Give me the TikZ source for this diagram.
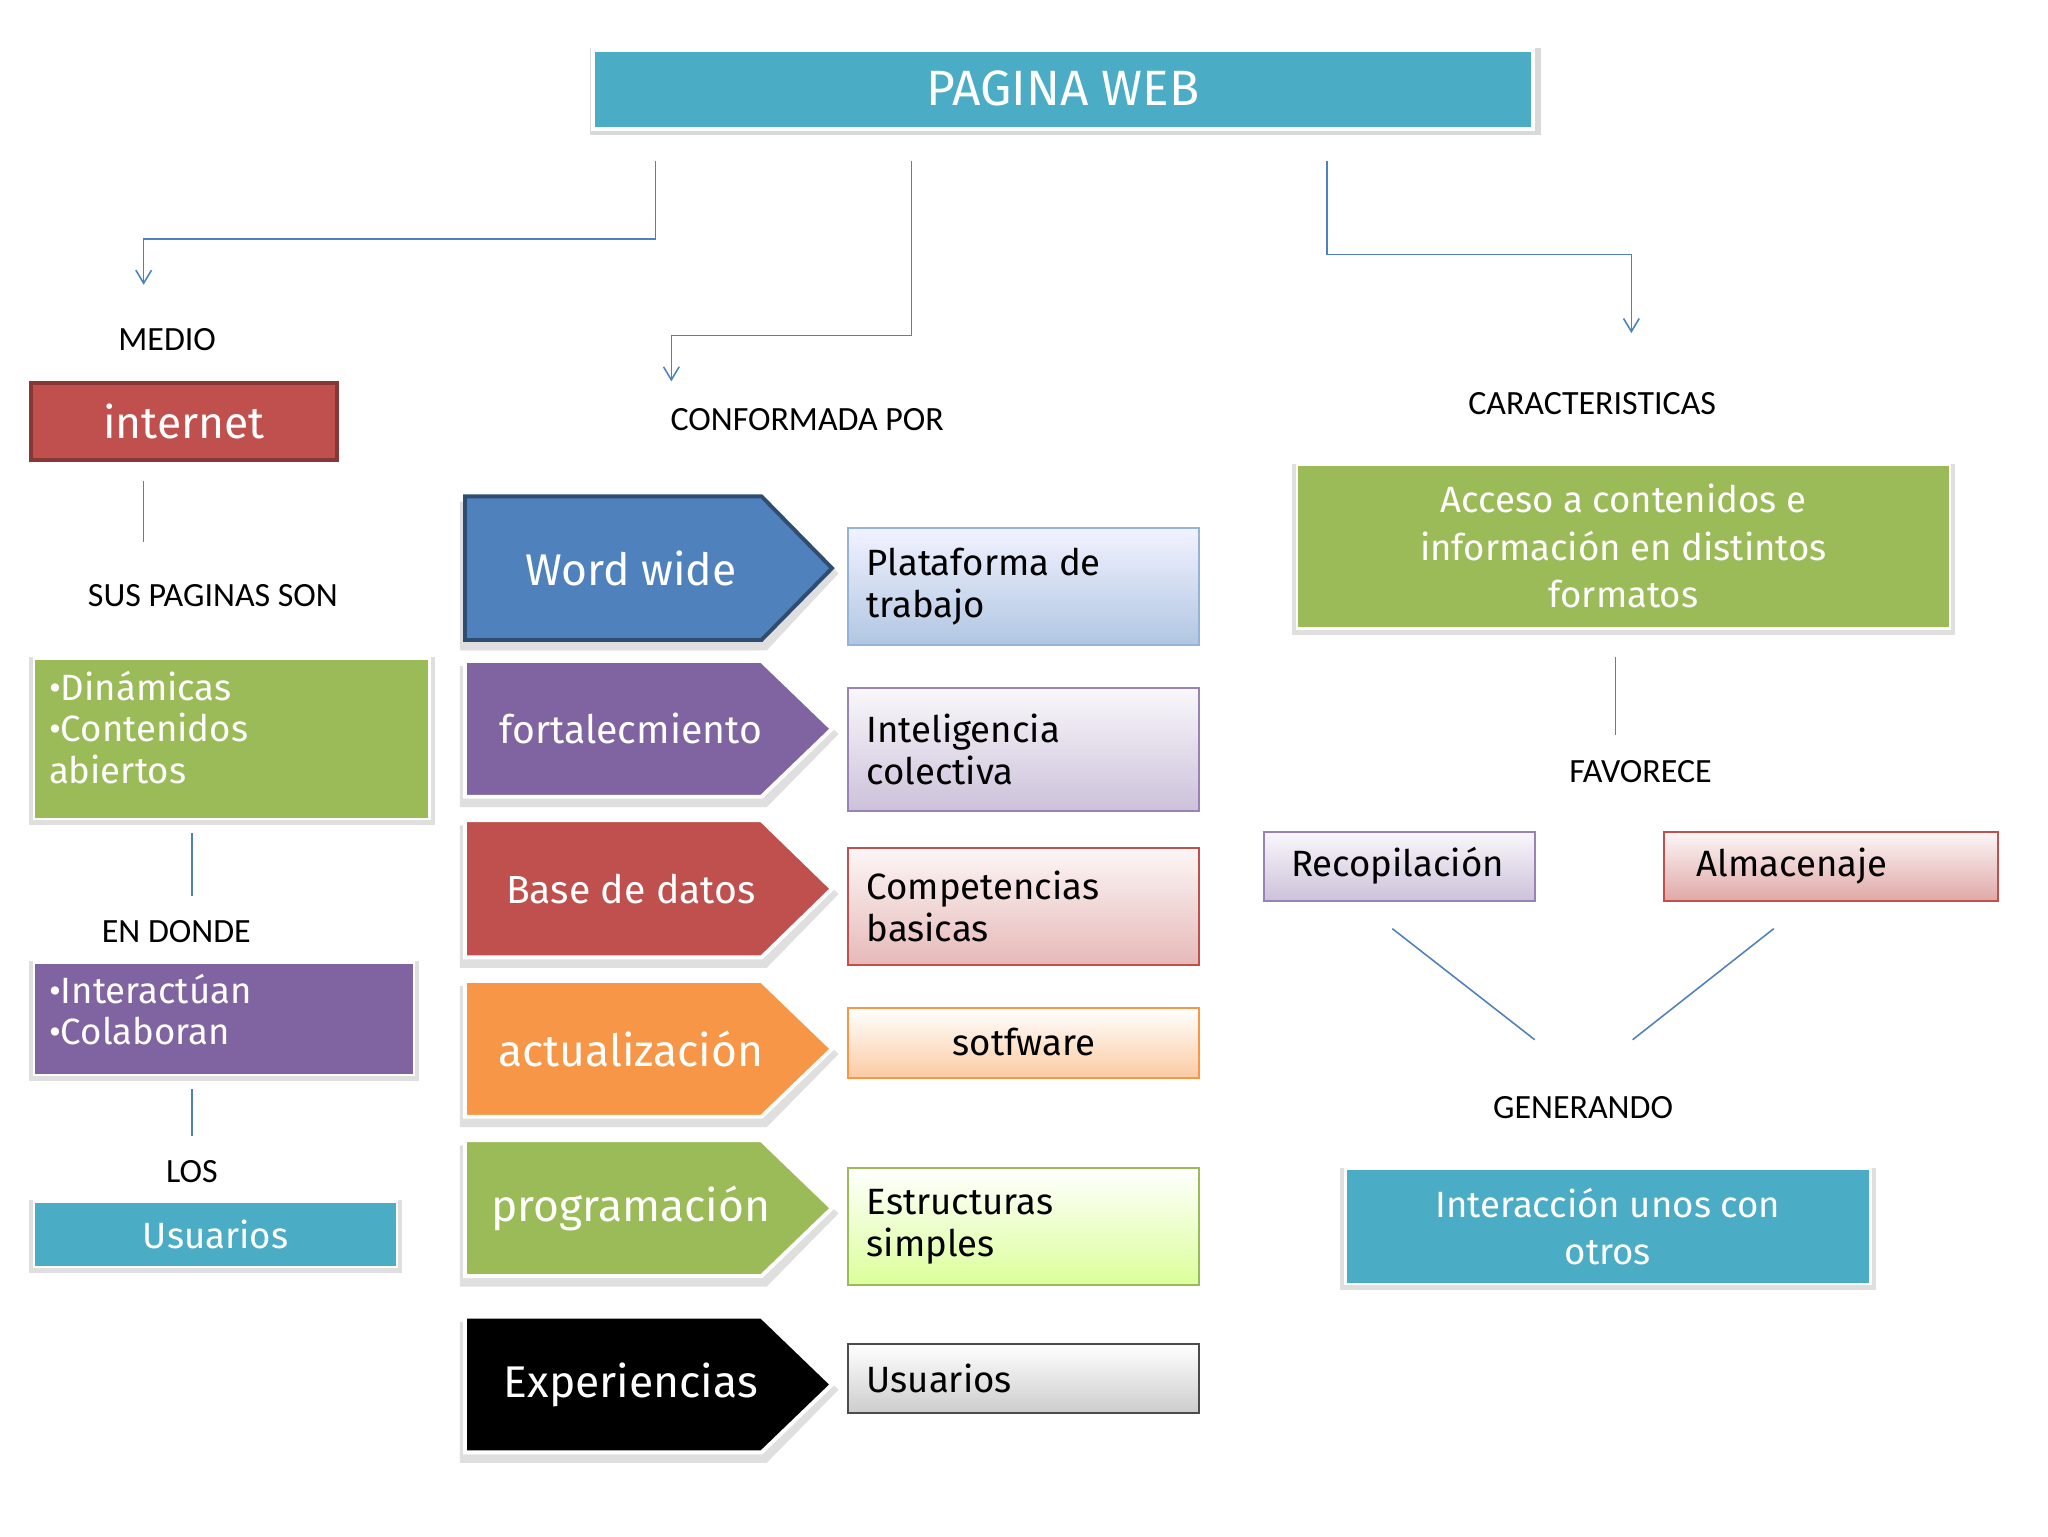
\documentclass[tikz,border=0pt]{standalone}
\usepackage{fontspec}
\setmainfont{Carlito}
\newfontfamily\boxf{Fira Sans}
\usetikzlibrary{arrows.meta}
\definecolor{cblue}{HTML}{4BACC6}
\definecolor{sblue}{HTML}{4F81BD}
\definecolor{cred}{HTML}{C0504D}
\definecolor{cgreen}{HTML}{9BBB59}
\definecolor{cpurp}{HTML}{8064A2}
\definecolor{corng}{HTML}{F79646}
\tikzset{
 lab/.style={font=\fontsize{26}{30}\selectfont},
 con/.style={draw=sblue,line width=1.2pt},
 arr/.style={con,-{Straight Barb[length=10pt,width=12pt]}},
 gb/.style={draw=#1,line width=1.5pt,inner sep=0pt},
 rt/.style={font=\boxf\fontsize{28}{32}\selectfont,align=left,anchor=west},
}
\begin{document}
\begin{tikzpicture}[x=1pt,y=-1pt]
\useasboundingbox (0,0) rectangle (1568,1176);
\fill[white] (0,0) rectangle (1568,1176);
% top
\fill[gray!30] (452,37) rectangle (1180,103);
\filldraw[fill=cblue,draw=white,line width=3pt] (454,38) rectangle (1174,99);
\node[text=white,font=\boxf\fontsize{38}{40}\selectfont] (pw) at (814,68) {PAGINA WEB};
\coordinate (a1) at (502,123); \coordinate (a2) at (698,123); \coordinate (a3) at (1016,123);
\coordinate (t1) at (110,218); \coordinate (t2) at (514,292); \coordinate (t3) at (1249,255);
\draw[arr] (a1) |- (300,183) -| (t1);
\draw[arr] (a2) |- (600,257) -| (t2);
\draw[arr] (a3) |- (1100,195) -| (t3);
% left column
\node[lab] (medio) at (128,260) {MEDIO};
\filldraw[fill=cred,draw=cred!70!black,line width=3pt] (24,293) rectangle (258,352);
\node[text=white,font=\boxf\fontsize{34}{36}\selectfont] (inet) at (141,323) {internet};
\draw[con] (110,368) -- (110,415);
\node[lab] (sus) at (163,456) {SUS PAGINAS SON};
\fill[gray!25] (22,503) rectangle (333,632);
\filldraw[fill=cgreen,draw=white,line width=2pt] (26,504) rectangle (329,627);
\node[rt,text=white,anchor=north west] (din) at (34,510) {•Dinámicas\\•Contenidos\\abiertos};
\draw[con] (147,638) -- (147,686);
\node[lab] (end) at (135,713) {EN DONDE};
\fill[gray!25] (22,736) rectangle (321,828);
\filldraw[fill=cpurp,draw=white,line width=2pt] (26,737) rectangle (317,823);
\node[rt,text=white,anchor=north west] (int) at (34,742) {•Interactúan\\•Colaboran};
\draw[con] (147,834) -- (147,870);
\node[lab] (los) at (147,897) {LOS};
\fill[gray!25] (22,919) rectangle (308,975);
\filldraw[fill=cblue,draw=white,line width=2pt] (26,920) rectangle (304,970);
\node[text=white,font=\boxf\fontsize{28}{30}\selectfont] (usu) at (165,945) {Usuarios};
% middle
\node[lab] (conf) at (618,321) {CONFORMADA POR};
\foreach \y/\h/\c/\t/\s/\bd in {380/110/sblue/Word wide/34/sblue!60!black, 506/104/cpurp/fortalecmiento/30/white, 628/105/cred/Base de datos/30/white, 751/104/corng/actualización/34/white, 873/104/cgreen/programación/34/white, 1008/104/black/Experiencias/34/white}{
 \fill[gray!25] (352,\y+4) -- (587,\y+4) -- (642,\y+\h/2+4) -- (587,\y+\h+8) -- (352,\y+\h+8) -- cycle;
 \filldraw[fill=\c,draw=\bd,line width=3pt] (356,\y) -- (583,\y) -- (637,\y+\h/2) -- (583,\y+\h) -- (356,\y+\h) -- cycle;
 \node[text=white,font=\boxf\fontsize{\s}{\s}\selectfont] at (483,\y+\h/2) {\t};
}
\shade[top color=white,bottom color=corng!50] (649,772) rectangle (918,825);
\shade[top color=blue!5,bottom color=sblue!45] (649,404) rectangle (918,494);
\shade[top color=cpurp!5,bottom color=cpurp!40] (649,527) rectangle (918,621);
\shade[top color=cred!5,bottom color=cred!40] (649,649) rectangle (918,739);
\shade[top color=white,bottom color=green!35!yellow!40] (649,894) rectangle (918,984);
\shade[top color=white,bottom color=gray!40] (649,1029) rectangle (918,1082);
\foreach \y/\h/\d/\t in {404/90/sblue!60/{Plataforma de\\trabajo}, 527/94/cpurp!80/{Inteligencia\\colectiva}, 649/90/cred/{Competencias\\basicas}, 894/90/cgreen/{Estructuras\\simples}, 1029/53/black!70/{Usuarios}}{
 \draw[gb=\d] (649,\y) rectangle (918,\y+\h);
 \node[rt] at (660,\y+\h/2) {\t};
}
\draw[gb=corng] (649,772) rectangle (918,825);
\node[font=\boxf\fontsize{28}{32}\selectfont] (sw) at (784,798) {sotfware};
% right
\node[lab] (car) at (1219,309) {CARACTERISTICAS};
\fill[gray!25] (989,355) rectangle (1497,486);
\filldraw[fill=cgreen,draw=white,line width=2pt] (993,356) rectangle (1493,481);
\node[text=white,font=\boxf\fontsize{28}{36}\selectfont,align=center] (acc) at (1243,418) {Acceso a contenidos e\\información en distintos\\formatos};
\draw[con] (1237,503) -- (1237,563);
\node[lab] (fav) at (1256,591) {FAVORECE};
\shade[top color=cpurp!5,bottom color=cpurp!40] (968,637) rectangle (1175,690);
\draw[gb=cpurp!80] (968,637) rectangle (1175,690);
\node[font=\boxf\fontsize{28}{32}\selectfont] (rec) at (1070,663) {Recopilación};
\shade[top color=cred!5,bottom color=cred!50] (1274,637) rectangle (1530,690);
\draw[gb=cred] (1274,637) rectangle (1530,690);
\node[font=\boxf\fontsize{28}{32}\selectfont] (alm) at (1372,663) {Almacenaje};
\draw[con] (1066,711) -- (1175,796);
\draw[con] (1358,711) -- (1250,796);
\node[lab] (gen) at (1212,848) {GENERANDO};
\fill[gray!25] (1026,894) rectangle (1436,988);
\filldraw[fill=cblue,draw=white,line width=2pt] (1030,895) rectangle (1432,983);
\node[text=white,font=\boxf\fontsize{28}{36}\selectfont,align=center] (inter) at (1231,939) {Interacción unos con\\otros};
\end{tikzpicture}
\end{document}
